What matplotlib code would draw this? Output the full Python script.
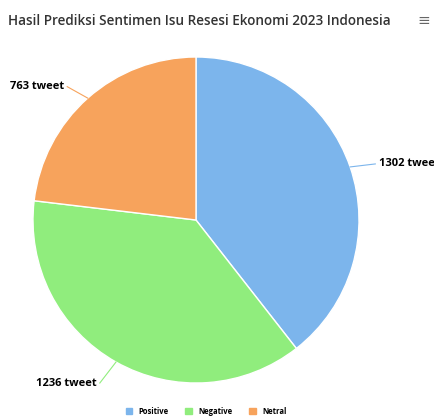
import matplotlib.pyplot as plt
import numpy as np

labels = ["Positive", "Negative", "Netral"]
values = [1302, 1236, 763]
colors = ["#7cb5ec", "#90ed7d", "#f7a35c"]

plt.rcParams['font.family'] = ['Open Sans', 'DejaVu Sans']

fig = plt.figure(figsize=(4.34, 4.17), dpi=100)
ax = fig.add_axes([0.076, 0.0815, 0.7512, 0.7818])

wedges, _ = ax.pie(values, colors=colors, startangle=90, counterclock=False,
                   radius=1, wedgeprops=dict(edgecolor="white", linewidth=1))
ax.set_xlim(-1, 1)
ax.set_ylim(-1, 1)
ax.set_aspect("auto")

# label positions (data coords) for each slice
label_pos = [(1.12, 0.344), (-0.61, -1.0), (-0.81, 0.818)]
label_ha = ["left", "right", "right"]

for w, v, c, (lx, ly), ha in zip(wedges, values, colors, label_pos, label_ha):
    mid = np.deg2rad((w.theta1 + w.theta2) / 2)
    ex, ey = np.cos(mid), np.sin(mid)
    gap = 0.02 if ha == "left" else -0.02
    ax.plot([ex, lx - gap], [ey, ly], color=c, lw=0.8, clip_on=False)
    ax.text(lx, ly, f"{v} tweet", ha=ha, va="center", fontsize=8,
            fontweight="bold", color="#000000", clip_on=False)

fig.text(0.018, 0.95, "Hasil Prediksi Sentimen Isu Resesi Ekonomi 2023 Indonesia",
         fontsize=9.75, color="#333333", va="center", ha="left", fontweight="semibold")
fig.text(0.977, 0.948, "≡", fontsize=11, color="#666666", va="center", ha="center")

# legend
handles = [plt.Rectangle((0, 0), 1, 1, color=c) for c in colors]
fig.legend(handles, labels, loc="center", bbox_to_anchor=(0.475, 0.014),
           ncol=3, frameon=False, handlelength=0.9, handleheight=0.9,
           columnspacing=2.2, handletextpad=0.8, prop={'weight': 'bold', 'size': 5.5})

fig.savefig("out.png", dpi=100)
